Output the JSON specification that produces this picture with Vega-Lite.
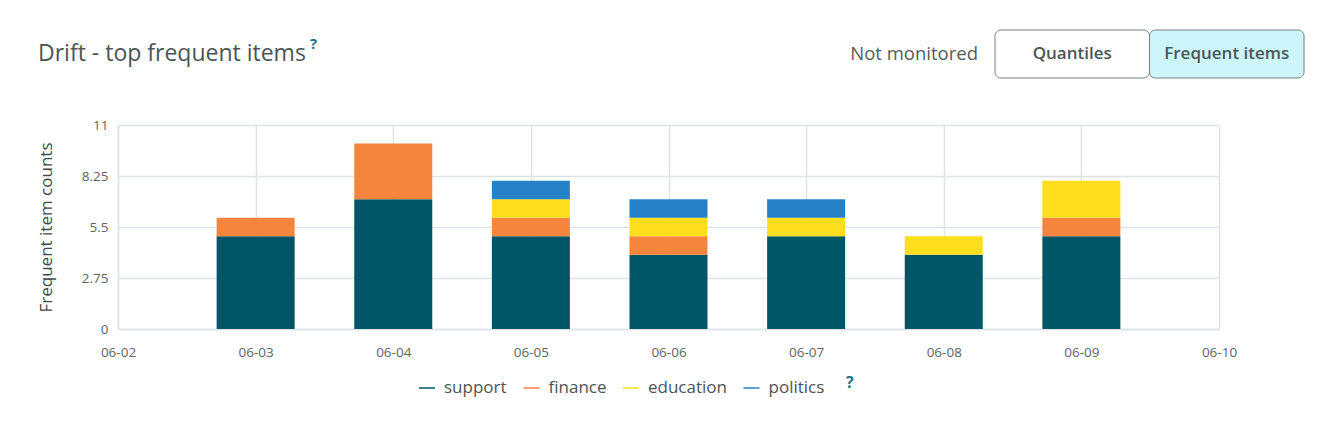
{
  "$schema": "https://vega.github.io/schema/vega-lite/v6.json",
  "padding": {"left": 37, "top": 29, "right": 0, "bottom": 25},
  "bounds": "flush",
  "spacing": 47,
  "background": "white",
  "config": {"font": "Open Sans", "view": {"stroke": null}},
  "vconcat": [
    {
      "width": 1101,
      "height": 48,
      "resolve": {"scale": {"x": "independent"}},
      "layer": [
        {
          "data": {"values": [{"t": "Drift - top frequent items"}]},
          "mark": {"type": "text", "align": "left", "baseline": "middle", "fontSize": 23, "color": "#4a5557"},
          "encoding": {
            "x": {"field": "t", "type": "nominal", "scale": {"type": "point", "range": [-80, -80]}, "axis": null},
            "text": {"field": "t"}
          }
        },
        {
          "data": {"values": [{"t": "?"}]},
          "mark": {"type": "text", "align": "left", "baseline": "middle", "dy": -10, "fontSize": 15, "fontWeight": "bold", "color": "#1b7384"},
          "encoding": {
            "x": {"field": "t", "type": "nominal", "scale": {"type": "point", "range": [192, 192]}, "axis": null},
            "text": {"field": "t"}
          }
        },
        {
          "data": {"values": [{"t": "Not monitored"}]},
          "mark": {"type": "text", "align": "right", "baseline": "middle", "fontSize": 18.5, "color": "#525d5f"},
          "encoding": {
            "x": {"field": "t", "type": "nominal", "scale": {"type": "point", "range": [860, 860]}, "axis": null},
            "text": {"field": "t"}
          }
        },
        {
          "data": {"values": [{"label": "Quantiles", "selected": "no"}, {"label": "Frequent items", "selected": "yes"}]},
          "mark": {"type": "bar", "cornerRadius": 6, "stroke": "#75807f", "strokeWidth": 1},
          "encoding": {
            "x": {"field": "label", "type": "nominal", "sort": null, "scale": {"type": "band", "domain": ["Quantiles", "Frequent items"], "range": [877, 1186], "paddingInner": 0, "paddingOuter": 0}, "axis": null},
            "fill": {"field": "selected", "type": "nominal", "scale": {"domain": ["no", "yes"], "range": ["#ffffff", "#cdf5fc"]}, "legend": null}
          }
        },
        {
          "data": {"values": [{"label": "Quantiles"}, {"label": "Frequent items"}]},
          "mark": {"type": "text", "align": "center", "baseline": "middle", "fontSize": 17, "fontWeight": 600, "color": "#4a5557"},
          "encoding": {
            "x": {"field": "label", "type": "nominal", "sort": null, "scale": {"type": "band", "domain": ["Quantiles", "Frequent items"], "range": [877, 1186], "paddingInner": 0, "paddingOuter": 0}, "axis": null},
            "text": {"field": "label"}
          }
        }
      ]
    },
    {
      "width": 1101,
      "height": 204,
      "data": {
        "values": [
          {"date": "2023-06-03", "item": "support", "count": 5},
          {"date": "2023-06-03", "item": "finance", "count": 1},
          {"date": "2023-06-04", "item": "support", "count": 7},
          {"date": "2023-06-04", "item": "finance", "count": 3},
          {"date": "2023-06-05", "item": "support", "count": 5},
          {"date": "2023-06-05", "item": "finance", "count": 1},
          {"date": "2023-06-05", "item": "education", "count": 1},
          {"date": "2023-06-05", "item": "politics", "count": 1},
          {"date": "2023-06-06", "item": "support", "count": 4},
          {"date": "2023-06-06", "item": "finance", "count": 1},
          {"date": "2023-06-06", "item": "education", "count": 1},
          {"date": "2023-06-06", "item": "politics", "count": 1},
          {"date": "2023-06-07", "item": "support", "count": 5},
          {"date": "2023-06-07", "item": "education", "count": 1},
          {"date": "2023-06-07", "item": "politics", "count": 1},
          {"date": "2023-06-08", "item": "support", "count": 4},
          {"date": "2023-06-08", "item": "education", "count": 1},
          {"date": "2023-06-09", "item": "support", "count": 5},
          {"date": "2023-06-09", "item": "finance", "count": 1},
          {"date": "2023-06-09", "item": "education", "count": 2}
        ]
      },
      "transform": [
        {"joinaggregate": [{"op": "sum", "field": "count", "as": "total"}], "groupby": ["item"]}
      ],
      "title": {"text": "?", "orient": "bottom", "anchor": "start", "frame": "group", "dx": 728, "offset": 16, "fontSize": 16, "fontWeight": "bold", "color": "#1b7384"},
      "mark": {"type": "bar", "size": 78},
      "encoding": {
        "x": {
          "field": "date", "type": "temporal",
          "scale": {"type": "utc", "padding": 0, "domain": [{"year": 2023, "month": 6, "date": 2, "utc": true}, {"year": 2023, "month": 6, "date": 10, "utc": true}]},
          "axis": {
            "title": null, "format": "%m-%d",
            "values": [
              {"year": 2023, "month": 6, "date": 2, "utc": true},
              {"year": 2023, "month": 6, "date": 3, "utc": true},
              {"year": 2023, "month": 6, "date": 4, "utc": true},
              {"year": 2023, "month": 6, "date": 5, "utc": true},
              {"year": 2023, "month": 6, "date": 6, "utc": true},
              {"year": 2023, "month": 6, "date": 7, "utc": true},
              {"year": 2023, "month": 6, "date": 8, "utc": true},
              {"year": 2023, "month": 6, "date": 9, "utc": true},
              {"year": 2023, "month": 6, "date": 10, "utc": true}
            ],
            "grid": true, "gridColor": "#dce4e6", "gridWidth": 1.5,
            "ticks": false, "labelPadding": 16, "labelFontSize": 13.5, "labelColor": "#5b6668",
            "labelFlush": false, "labelOverlap": false,
            "domainColor": "#dce4e6", "domainWidth": 1.5
          }
        },
        "y": {
          "field": "count", "type": "quantitative", "stack": "zero",
          "scale": {"domain": [0, 11], "nice": false},
          "axis": {
            "title": "Frequent item counts", "titleFontSize": 17, "titleFontWeight": "normal", "titleColor": "#3f4a4c", "titlePadding": 26,
            "values": [0, 2.75, 5.5, 8.25, 11], "format": ".2~f",
            "grid": true, "gridColor": "#dce4e6", "gridWidth": 1.5,
            "ticks": false, "labelPadding": 10, "labelFontSize": 13.5, "labelColor": "#5b6668",
            "domainColor": "#dce4e6", "domainWidth": 1.5
          }
        },
        "order": {"field": "total", "type": "quantitative", "sort": "descending"},
        "color": {
          "field": "item", "type": "nominal",
          "sort": ["support", "finance", "education", "politics"],
          "scale": {"domain": ["support", "finance", "education", "politics"], "range": ["#005566", "#f5843c", "#ffde1e", "#2683c9"]},
          "legend": {
            "orient": "none", "legendX": 300, "legendY": 349, "direction": "horizontal", "title": null,
            "symbolType": "stroke", "symbolSize": 256, "symbolStrokeWidth": 1.5,
            "labelFontSize": 17, "labelColor": "#4a5557", "columnPadding": 13.5, "labelOffset": 8,
            "encode": {"symbols": {"update": {"stroke": {"scale": "color", "field": "value"}, "strokeWidth": {"value": 1.5}}}}
          }
        }
      }
    }
  ]
}
